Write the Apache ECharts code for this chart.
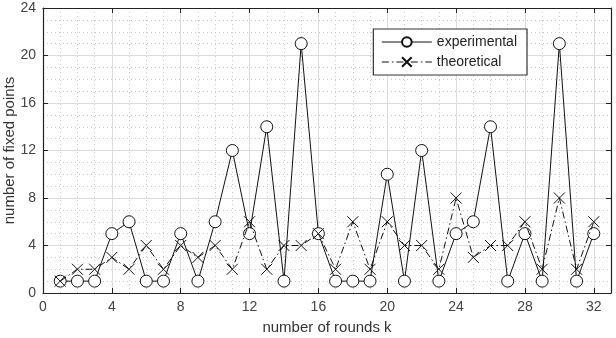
<!DOCTYPE html>
<html>
<head>
<meta charset="utf-8">
<script src="https://cdn.jsdelivr.net/npm/echarts@6/dist/echarts.min.js"></script>
<style>
  html, body { margin: 0; padding: 0; background: #fff; }
  #chart { width: 616px; height: 338px; }
</style>
</head>
<body>
<div id="chart"></div>
<script>
// rounds k = 1..32
var rounds = [1,2,3,4,5,6,7,8,9,10,11,12,13,14,15,16,17,18,19,20,21,22,23,24,25,26,27,28,29,30,31,32];
var experimental = [1,1,1,5,6,1,1,5,1,6,12,5,14,1,21,5,1,1,1,10,1,12,1,5,6,14,1,5,1,21,1,5];
var theoretical = [1,2,2,3,2,4,2,4,3,4,2,6,2,4,4,5,2,6,2,6,4,4,2,8,3,4,4,6,2,8,2,6];
var xTicks = [0,4,8,12,16,20,24,28,32];
var yTicks = [0,4,8,12,16,20,24];

var font = 'Liberation Sans';
var crossPath = 'path://M0,0L10,10M10,0L0,10';

function pairs(vals) {
    return rounds.map(function (k, i) { return [k, vals[i]]; });
}

var frameAxis = {
    axisLine: { show: true, onZero: false, lineStyle: { color: '#222', width: 1.2 } },
    axisTick: { show: true, inside: true, length: 5, lineStyle: { color: '#222' } },
    axisLabel: { show: false },
    splitLine: { show: false },
    minorTick: { show: false },
    minorSplitLine: { show: false }
};

var option = {
    animation: false,
    backgroundColor: '#fff',
    grid: { left: 43, right: 5, top: 8, bottom: 45, containLabel: false, outerBoundsMode: 'none' },
    legend: {
        right: 89, top: 29,
        orient: 'vertical',
        backgroundColor: '#fff',
        borderColor: '#333', borderWidth: 1.2,
        padding: [6, 10, 6, 8],
        itemGap: 6, itemWidth: 50, itemHeight: 12,
        lineStyle: { width: 1 },
        textStyle: { fontFamily: font, fontSize: 14, color: '#222' },
        data: ['experimental', 'theoretical']
    },
    xAxis: [{
        type: 'value', min: 0, max: 33, interval: 4,
        name: 'number of rounds k', nameLocation: 'middle', nameGap: 27, nameMoveOverlap: false,
        nameTextStyle: { fontFamily: font, fontSize: 15, color: '#333' },
        axisLine: { show: true, onZero: false, lineStyle: { color: '#222', width: 1.2 } },
        axisTick: { show: true, inside: true, length: 5, lineStyle: { color: '#222' } },
        axisLabel: { fontFamily: font, fontSize: 14, color: '#444', margin: 7,
            formatter: function (v) { return xTicks.indexOf(v) >= 0 ? v : ''; } },
        splitLine: { show: true, lineStyle: { color: '#dcdcdc', width: 1 } },
        minorTick: { show: false, splitNumber: 4 },
        minorSplitLine: { show: true, lineStyle: { color: '#c8c8c8', type: [1, 3], width: 1 } }
    }, Object.assign({ type: 'value', position: 'top', min: 0, max: 33, interval: 4 }, frameAxis)],
    yAxis: [{
        type: 'value', min: 0, max: 24, interval: 4,
        name: 'number of fixed points', nameLocation: 'middle', nameGap: 26, nameMoveOverlap: false,
        nameTextStyle: { fontFamily: font, fontSize: 15, color: '#333' },
        axisLine: { show: true, onZero: false, lineStyle: { color: '#222', width: 1.2 } },
        axisTick: { show: true, inside: true, length: 5, lineStyle: { color: '#222' } },
        axisLabel: { fontFamily: font, fontSize: 14, color: '#444', margin: 7,
            formatter: function (v) { return yTicks.indexOf(v) >= 0 ? v : ''; } },
        splitLine: { show: true, lineStyle: { color: '#dcdcdc', width: 1 } },
        minorTick: { show: false, splitNumber: 4 },
        minorSplitLine: { show: true, lineStyle: { color: '#c8c8c8', type: [1, 3], width: 1 } }
    }, Object.assign({ type: 'value', position: 'right', min: 0, max: 24, interval: 4 }, frameAxis)],
    series: [{
        name: 'experimental',
        type: 'line',
        data: pairs(experimental),
        symbol: 'circle', symbolSize: 12,
        showAllSymbol: true,
        lineStyle: { color: '#111', width: 1 },
        itemStyle: { color: '#fff', borderColor: '#111', borderWidth: 1 },
        emphasis: { disabled: true },
        z: 3
    }, {
        name: 'theoretical',
        type: 'line',
        data: pairs(theoretical),
        symbol: crossPath, symbolSize: 11,
        showAllSymbol: true,
        lineStyle: { color: '#111', width: 1, type: [7, 3, 1.5, 3] },
        itemStyle: { color: '#111', borderColor: '#111', borderWidth: 1 },
        emphasis: { disabled: true },
        z: 4
    }]
};

var myChart = echarts.init(document.getElementById('chart'), null, { renderer: 'canvas' });
myChart.setOption(option);
</script>
</body>
</html>
